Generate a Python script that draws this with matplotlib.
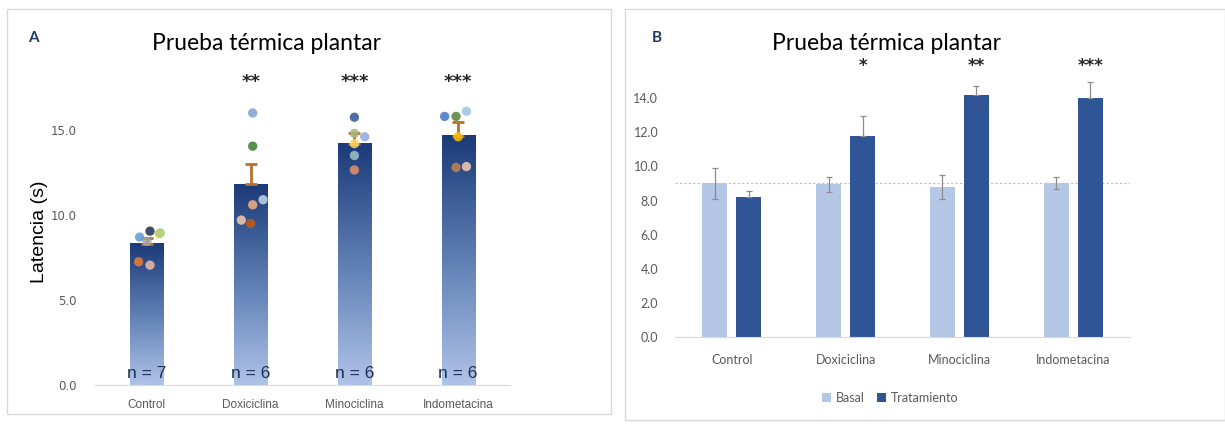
import numpy as np
import matplotlib
matplotlib.use("Agg")
import matplotlib.pyplot as plt
from matplotlib.colors import LinearSegmentedColormap
from matplotlib.patches import Rectangle

# data
groups = ['Control', 'Doxiciclina', 'Minociclina', 'Indometacina']
means_a = [8.3, 11.8, 14.2, 14.65]
err_a = [0.35, 1.2, 0.6, 0.85]
n_labels = ['n = 7', 'n = 6', 'n = 6', 'n = 6']
stars_a = ['', '**', '***', '***']

# individual animals (x offset, value, colour) for panel A
pts_ctrl_y = [8.7, 9.05, 8.9, 8.95, 8.45, 7.25, 7.05]
pts_ctrl_dx = [-0.07, 0.03, 0.12, 0.13, 0.0, -0.08, 0.03]
pts_ctrl_c = ['#5b9bd5', '#1f2f4f', '#ffc000', '#a9d18e', '#a5a5a5', '#ed7d31', '#f4b8a8']
pts_doxi_y = [16.0, 14.05, 10.6, 10.9, 9.7, 9.5]
pts_doxi_dx = [0.02, 0.02, 0.02, 0.12, -0.09, 0.0]
pts_doxi_c = ['#7f9fcf', '#3a7d2c', '#f4b183', '#bdd7ee', '#f8cbad', '#c55a11']
pts_mino_y = [15.75, 14.6, 14.2, 14.8, 13.5, 12.65]
pts_mino_dx = [0.0, 0.1, 0.0, 0.0, 0.0, 0.0]
pts_mino_c = ['#2f5597', '#8faadc', '#ffd966', '#a9b57f', '#9dc3c6', '#e9906a']
pts_indo_y = [15.8, 15.8, 16.1, 14.6, 12.8, 12.85]
pts_indo_dx = [-0.13, -0.02, 0.08, 0.0, -0.02, 0.08]
pts_indo_c = ['#4472c4', '#548235', '#9dc3e6', '#ffc000', '#c5834f', '#f8cbad']

basal = [9.0, 8.95, 8.8, 9.05]
basal_err = [0.9, 0.45, 0.7, 0.35]
trat = [8.2, 11.8, 14.2, 14.0]
trat_err = [0.35, 1.15, 0.5, 0.95]
stars_b = ['', '*', '**', '***']
basal_ref = 9.0

fig = plt.figure(figsize=(12.25, 4.24), dpi=100)

# panel frames
fig.patches.append(Rectangle((7/1225, 1-414/424), 604/1225, 405/424, transform=fig.transFigure,
                             fill=False, edgecolor='#d9d9d9', lw=1))
fig.patches.append(Rectangle((625/1225, 1-420/424), 600/1225, 411/424, transform=fig.transFigure,
                             fill=False, edgecolor='#d9d9d9', lw=1))

grey = '#595959'

# ---------- panel A ----------
ax = fig.add_axes([95/1225, 1-385/424, 415/1225, 306/424])
x = np.arange(len(groups))
w = 0.32
cmap = LinearSegmentedColormap.from_list('g', ['#afc3e8', '#5f7fb4', '#1b3a78'])
grad = np.linspace(0, 1, 256).reshape(-1, 1)
bars = ax.bar(x, means_a, width=w, color='none', zorder=2)
for b in bars:
    x0, hgt = b.get_x(), b.get_height()
    ax.imshow(grad, cmap=cmap, origin='lower', aspect='auto',
              extent=[x0, x0 + b.get_width(), 0, hgt], zorder=2)
ax.errorbar(x, means_a, yerr=[np.zeros(4), err_a], fmt='none', ecolor='#b8702e',
            elinewidth=2, capsize=4, capthick=2, zorder=3)
for i, (ys, dx, cs) in enumerate([(pts_ctrl_y, pts_ctrl_dx, pts_ctrl_c),
                                  (pts_doxi_y, pts_doxi_dx, pts_doxi_c),
                                  (pts_mino_y, pts_mino_dx, pts_mino_c),
                                  (pts_indo_y, pts_indo_dx, pts_indo_c)]):
    ax.scatter(i + np.array(dx), ys, s=45, c=cs, alpha=0.85, edgecolors='none', zorder=4)
for i in range(4):
    ax.text(i, 0.25, n_labels[i], ha='center', va='bottom', fontsize=12.5,
            color='#1f2f4f', family='Liberation Sans', zorder=5)
    if stars_a[i]:
        ax.text(i, 17.8, stars_a[i], ha='center', va='center', fontsize=13,
                fontweight='bold', color='#262626', zorder=5)
ax.set_xlim(-0.5, 3.5)
ax.set_ylim(0, 18)
ax.set_yticks([0, 5, 10, 15])
ax.set_yticklabels(['0.0', '5.0', '10.0', '15.0'])
ax.set_xticks(x)
ax.set_xticklabels(groups, family='Liberation Sans')
ax.tick_params(length=0, labelsize=8.5, colors=grey, pad=10)
ax.tick_params(axis='y', pad=13)
for s in ['top', 'right', 'left']:
    ax.spines[s].set_visible(False)
ax.spines['bottom'].set_color('#d9d9d9')
ax.set_ylabel('Latencia (s)', fontsize=14, family='Liberation Sans')
ax.yaxis.set_label_coords(-47/415, 0.5)
fig.text(267/1225, 1-43/424, 'Prueba térmica plantar', ha='center', va='center',
         fontsize=16.5, family='Lato')
fig.text(33/1225, 1-38/424, 'A', ha='center', va='center', fontsize=11,
         fontweight='bold', color='#1f3864', family='Lato')

# ---------- panel B ----------
ax2 = fig.add_axes([675/1225, 1-337/424, 455/1225, 273/424])
off = 0.15
wb = 0.22
ax2.axhline(basal_ref, color='#bfbfbf', lw=0.8, ls=(0, (2, 2)), zorder=1)
ax2.bar(x - off, basal, width=wb, color='#b4c7e7', label='Basal', zorder=2)
ax2.bar(x + off, trat, width=wb, color='#2f5597', label='Tratamiento', zorder=2)
ax2.errorbar(x - off, basal, yerr=basal_err, fmt='none', ecolor='#8c8c8c',
             elinewidth=0.9, capsize=2.5, capthick=0.9, zorder=3)
ax2.errorbar(x + off, trat, yerr=[np.zeros(4), trat_err], fmt='none', ecolor='#8c8c8c',
             elinewidth=0.9, capsize=2.5, capthick=0.9, zorder=3)
for i in range(4):
    if stars_b[i]:
        ax2.text(i + off, 15.9, stars_b[i], ha='center', va='center', fontsize=12,
                 fontweight='bold', color='#262626')
ax2.set_xlim(-0.5, 3.5)
ax2.set_ylim(0, 16)
ax2.set_yticks(np.arange(0, 15, 2))
ax2.set_yticklabels(['%.1f' % v for v in np.arange(0, 15, 2)])
ax2.set_xticks(x)
ax2.set_xticklabels(groups)
ax2.tick_params(length=0, labelsize=9, colors=grey, pad=12)
ax2.tick_params(axis='y', pad=12)
for lab in ax2.get_xticklabels() + ax2.get_yticklabels():
    lab.set_family('Lato')
for s in ['top', 'right', 'left']:
    ax2.spines[s].set_visible(False)
ax2.spines['bottom'].set_color('#d9d9d9')
ax2.legend(loc='center', bbox_to_anchor=(890/1225, 1-398/424), bbox_transform=fig.transFigure,
           ncol=2, frameon=False, prop={'family': 'Lato', 'size': 9}, handlelength=0.7,
           handleheight=0.7, columnspacing=1.0, handletextpad=0.4, labelcolor=grey)
fig.text(887/1225, 1-43/424, 'Prueba térmica plantar', ha='center', va='center',
         fontsize=16.5, family='Lato')
fig.text(657/1225, 1-38/424, 'B', ha='center', va='center', fontsize=11,
         fontweight='bold', color='#1f3864', family='Lato')

fig.savefig('out.png', dpi=100)
